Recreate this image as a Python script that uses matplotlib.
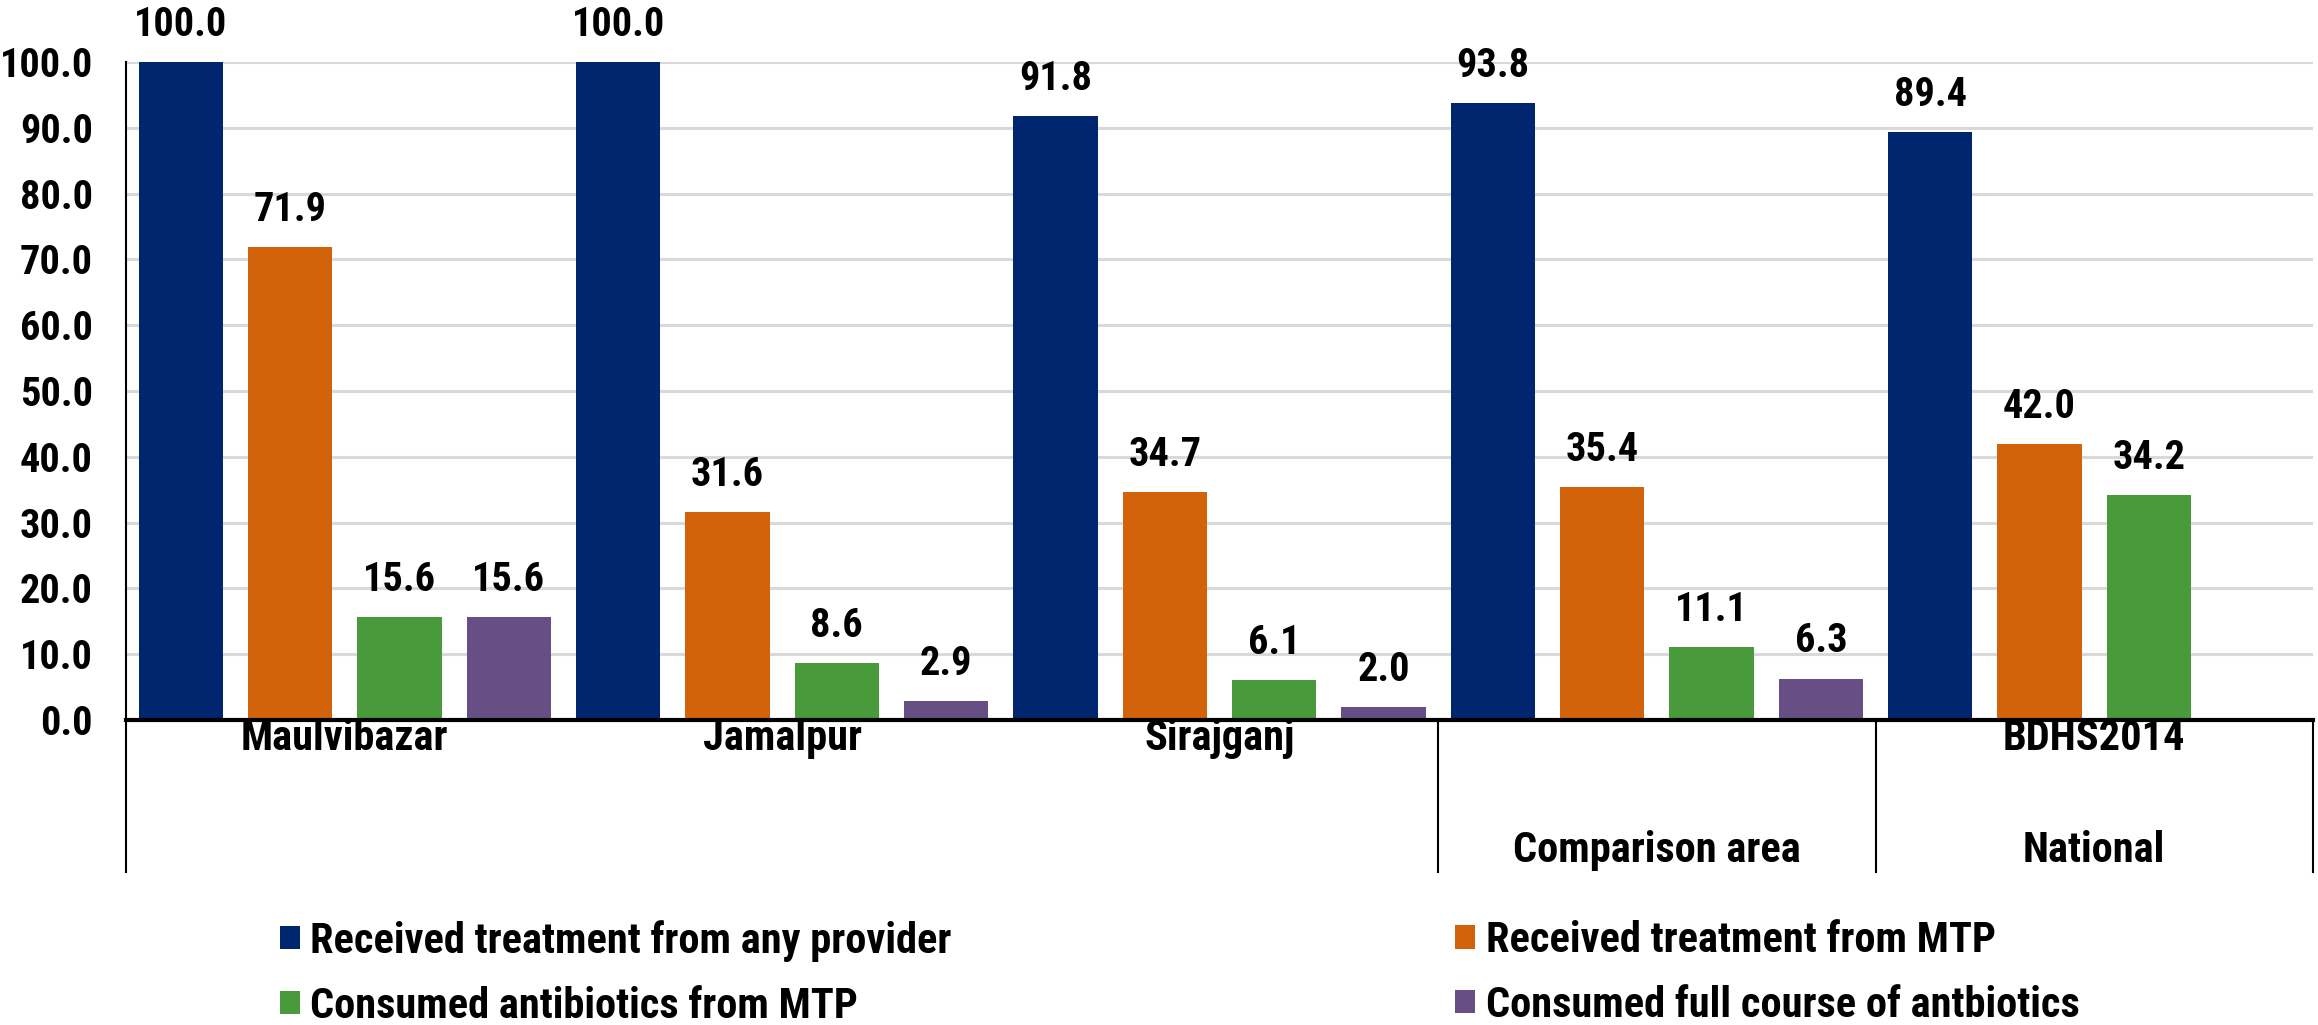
import matplotlib
matplotlib.use("Agg")
import matplotlib.pyplot as plt
import numpy as np
from matplotlib.lines import Line2D
from matplotlib.patches import Patch

# Data
groups = ["Maulvibazar", "Jamalpur", "Sirajganj", "", "BDHS2014"]
parent_labels = ["", "Comparison area", "National"]
parent_spans = [(0, 3), (3, 4), (4, 5)]
series_names = [
    "Received treatment from any provider",
    "Received treatment from MTP",
    "Consumed antibiotics from MTP",
    "Consumed full course of antbiotics",
]
any_provider = [100.0, 100.0, 91.8, 93.8, 89.4]
from_mtp = [71.9, 31.6, 34.7, 35.4, 42.0]
antibiotics_mtp = [15.6, 8.6, 6.1, 11.1, 34.2]
full_course = [15.6, 2.9, 2.0, 6.3, np.nan]
yticks = [0, 10, 20, 30, 40, 50, 60, 70, 80, 90, 100]

colors = ["#00266F", "#D2630A", "#489A3B", "#674F86"]
series = [any_provider, from_mtp, antibiotics_mtp, full_course]

FONT = ["Roboto Condensed", "DejaVu Sans"]
plt.rcParams["font.family"] = FONT
plt.rcParams["font.weight"] = "bold"
FS_NUM = 29
FS_TXT = 30.5

fig = plt.figure(figsize=(23.18, 10.25), dpi=100)
ax = fig.add_axes([0.0544, 0.2976, 0.9434, 0.6419])

n = len(groups)
slot = 1.0 / 4
width = slot * 0.77
x0 = np.arange(n)
for k, (vals, col) in enumerate(zip(series, colors)):
    xs = x0 - 0.5 + slot * (k + 0.5)
    v = np.array(vals, dtype=float)
    mask = ~np.isnan(v)
    ax.bar(xs[mask], v[mask], width=width, color=col, zorder=3)
    for xi, vi in zip(xs[mask], v[mask]):
        ax.annotate(f"{vi:.1f}", (xi, vi), xytext=(0, 13), textcoords="offset points",
                    ha="center", va="bottom", fontsize=FS_NUM, fontweight="bold",
                    annotation_clip=False)

ax.set_xlim(-0.5, n - 0.5)
ax.set_ylim(0, 100)
ax.set_yticks(yticks)
ax.set_yticklabels([f"{t:.1f}" for t in yticks], fontsize=FS_NUM, fontweight="bold")
ax.tick_params(axis="y", length=0, pad=24)
ax.set_xticks([])
ax.yaxis.grid(True, color="#D9D9D9", linewidth=2.2, zorder=0)
ax.set_axisbelow(True)
for s in ["top", "right"]:
    ax.spines[s].set_visible(False)
ax.spines["left"].set_linewidth(1.5)
ax.spines["bottom"].set_linewidth(3)
ax.spines["bottom"].set_zorder(4)

# Two-level category axis
trans = ax.get_xaxis_transform()
for i, g in enumerate(groups):
    if g:
        ax.text(i, -0.028, g, transform=trans, ha="center", va="center",
                fontsize=FS_TXT, fontweight="bold")
for (a, b), lab in zip(parent_spans, parent_labels):
    if lab:
        ax.text((a + b) / 2 - 0.5, -0.198, lab, transform=trans, ha="center",
                va="center", fontsize=FS_TXT, fontweight="bold")
for xb in [-0.5, 2.5, 3.5, 4.5]:
    ax.add_line(Line2D([xb, xb], [0, -0.231], transform=trans, color="black",
                       linewidth=1.5, clip_on=False))

# Legend in two columns
handles = [Patch(facecolor=c, edgecolor="none") for c in colors]
leg_kw = dict(frameon=False, handlelength=0.47, handleheight=0.47,
              handletextpad=0.25, labelspacing=0.56, borderpad=0, borderaxespad=0,
              prop={"weight": "bold", "size": FS_TXT, "family": FONT})
fig.legend([handles[0], handles[2]], [series_names[0], series_names[2]],
           loc="upper left", bbox_to_anchor=(280 / 2318, 1 - 920 / 1025), **leg_kw)
fig.legend([handles[1], handles[3]], [series_names[1], series_names[3]],
           loc="upper left", bbox_to_anchor=(1455 / 2318, 1 - 920 / 1025), **leg_kw)

fig.savefig("out.png", dpi=100)
